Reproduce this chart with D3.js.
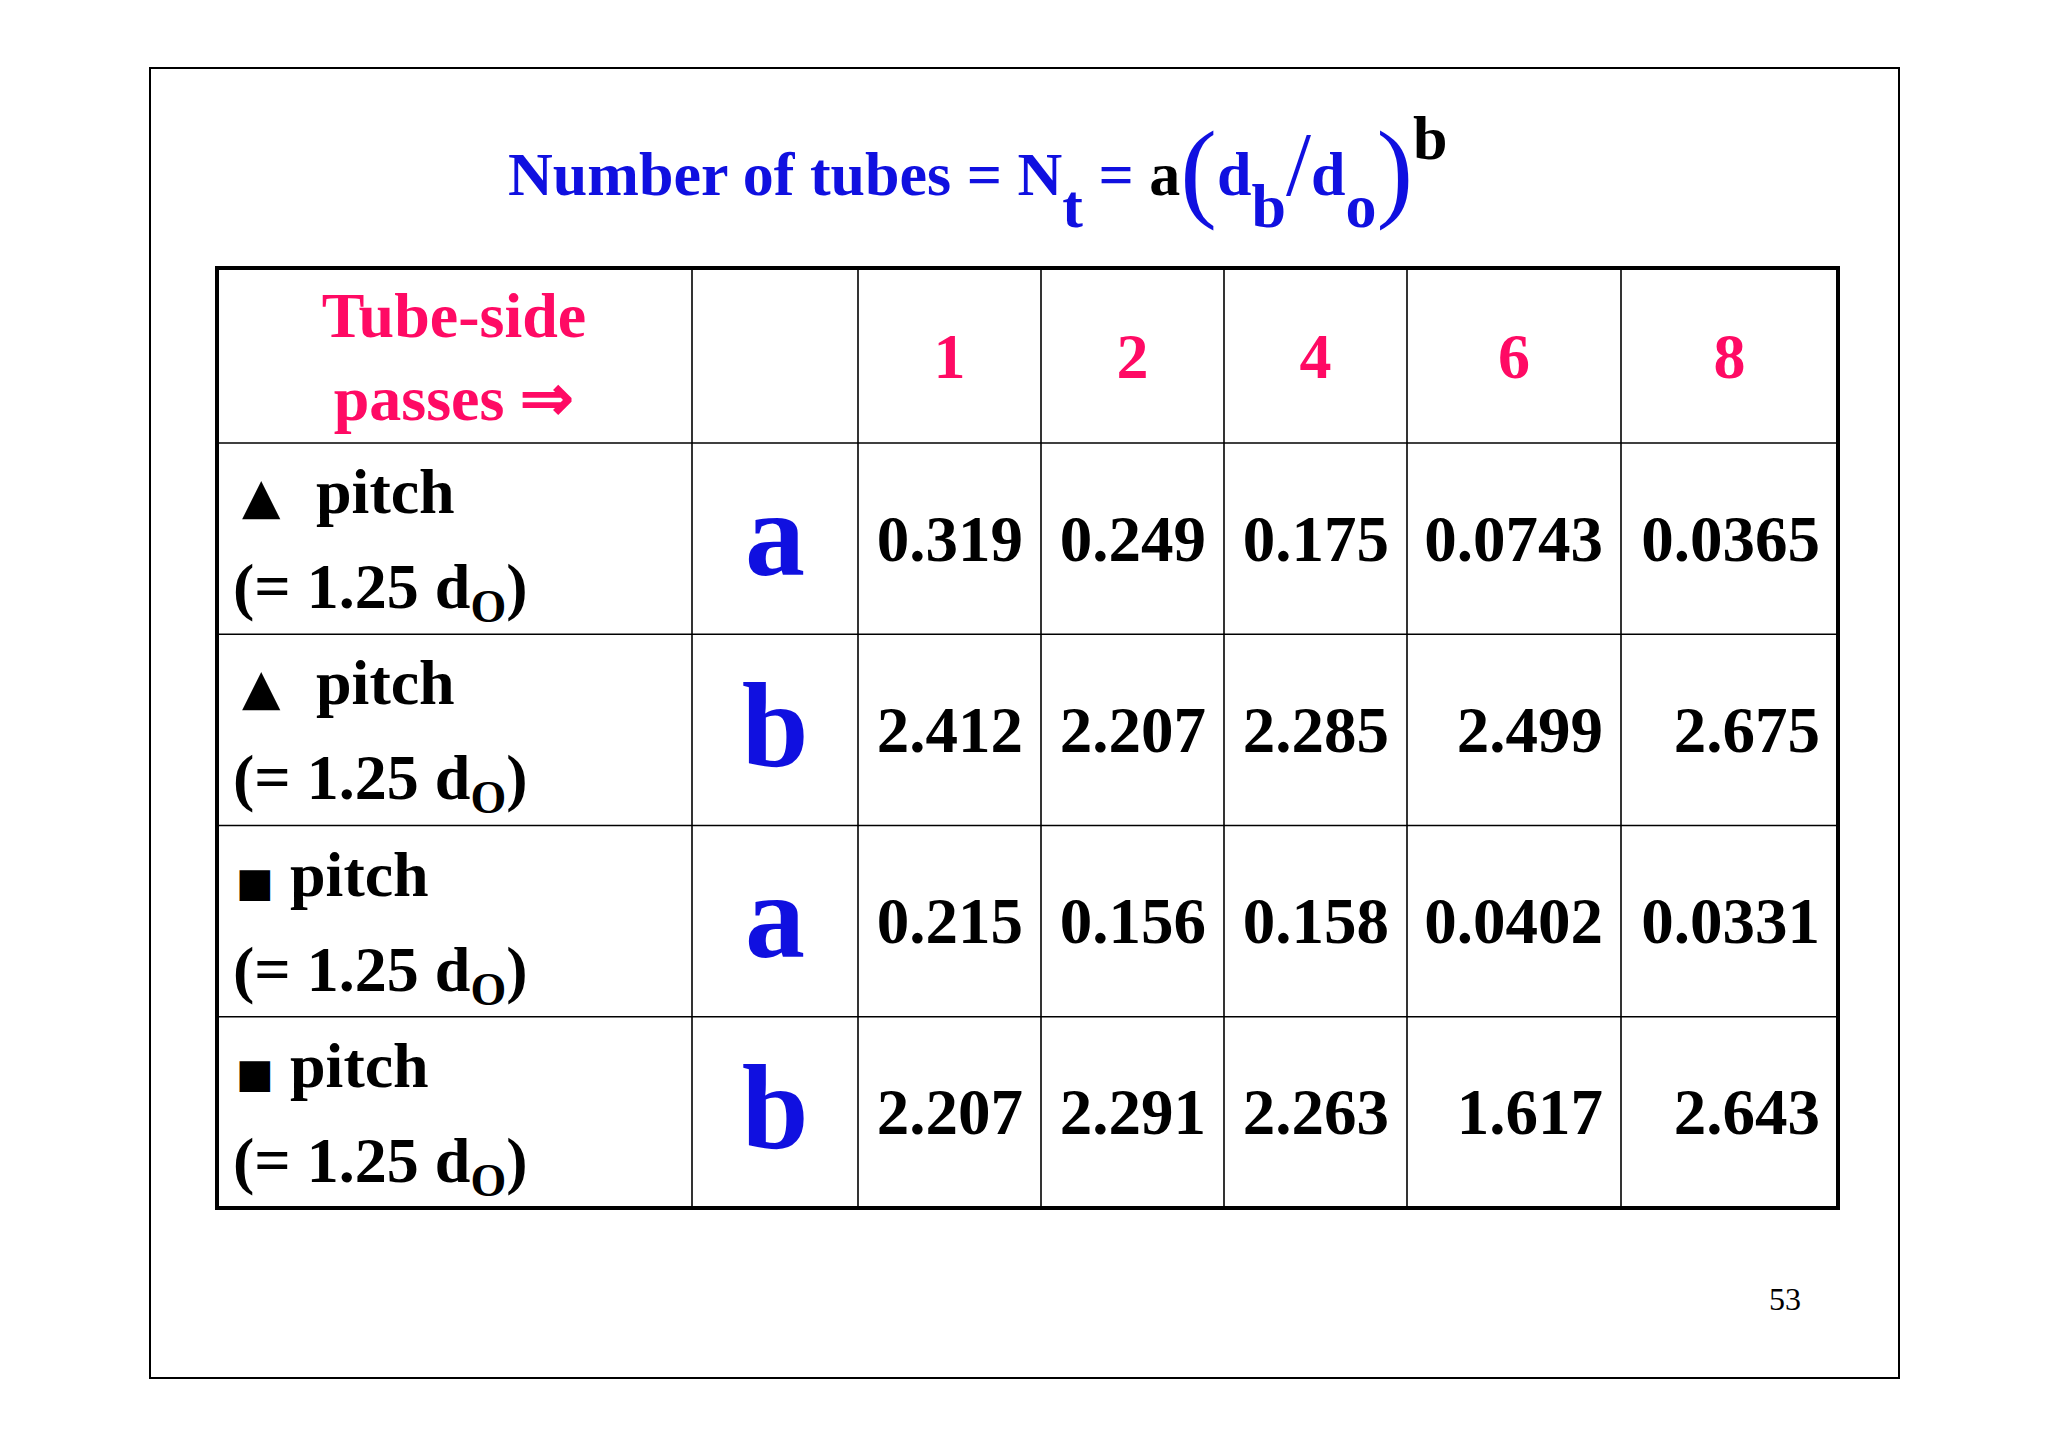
<!DOCTYPE html>
<html lang="en">
<head>
<meta charset="UTF-8">
<script src="https://d3js.org/d3.v7.min.js"></script>
<style>
  body { margin: 0; background: #fff; }
  text { font-family: "Liberation Serif", "Times New Roman", serif; font-weight: bold; }
</style>
</head>
<body>
<div id="chart"></div>
<script>
// data
const passes = ["1", "2", "4", "6", "8"];
const pitchSymbols = ["▲", "▲", "■", "■"];
const params = ["a", "b", "a", "b"];
const values = [
  ["0.319", "0.249", "0.175", "0.0743", "0.0365"],
  ["2.412", "2.207", "2.285", "2.499", "2.675"],
  ["0.215", "0.156", "0.158", "0.0402", "0.0331"],
  ["2.207", "2.291", "2.263", "1.617", "2.643"]
];
const pageNumber = "53";

const W = 2048, H = 1448;
const blue = "#1010E0", pink = "#FF0A64";

const svg = d3.select("#chart").append("svg").attr("width", W).attr("height", H);

// page frame
svg.append("rect").attr("x", 150).attr("y", 68).attr("width", 1749).attr("height", 1310)
  .attr("fill", "none").attr("stroke", "#000").attr("stroke-width", 2);

// title
const title = svg.append("text").attr("x", 508).attr("y", 195).attr("font-size", 62).attr("fill", blue);
title.append("tspan").text("Number of tubes = N");
title.append("tspan").attr("dy", 32).text("t");
title.append("tspan").attr("dy", -32).text("  =  ");
title.append("tspan").attr("fill", "#000").text("a");
title.append("tspan").attr("font-size", 110).attr("style", "font-weight:normal").attr("dy", 12).text("(");
title.append("tspan").attr("dy", -12).text("d");
title.append("tspan").attr("dy", 32).text("b");
title.append("tspan").attr("dy", -32).attr("font-size", 90).attr("style", "font-weight:normal").text("/");
title.append("tspan").text("d");
title.append("tspan").attr("dy", 32).text("o");
title.append("tspan").attr("font-size", 110).attr("style", "font-weight:normal").attr("dy", -20).text(")");
title.append("tspan").attr("fill", "#000").attr("dy", -48).text("b");

// table layout
const tableLeft = 217, tableRight = 1838, tableTop = 268, headerBottom = 443, tableBottom = 1208;
const labelRight = 692, paramRight = 858;
const colEdges = [858, 1041, 1224, 1407, 1621, 1838];

const y = d3.scaleBand().domain(d3.range(values.length)).range([headerBottom, tableBottom]);

const g = svg.append("g");
const thin = 1.6;
y.domain().forEach(i => {
  if (i > 0) g.append("line").attr("x1", tableLeft).attr("x2", tableRight)
    .attr("y1", y(i)).attr("y2", y(i)).attr("stroke", "#000").attr("stroke-width", thin);
});
g.append("line").attr("x1", tableLeft).attr("x2", tableRight).attr("y1", headerBottom).attr("y2", headerBottom)
  .attr("stroke", "#000").attr("stroke-width", thin);
[labelRight, ...colEdges.slice(0, -1)].forEach(x => {
  g.append("line").attr("x1", x).attr("x2", x).attr("y1", tableTop).attr("y2", tableBottom)
    .attr("stroke", "#000").attr("stroke-width", thin);
});
g.append("rect").attr("x", tableLeft).attr("y", tableTop).attr("width", tableRight - tableLeft)
  .attr("height", tableBottom - tableTop).attr("fill", "none").attr("stroke", "#000").attr("stroke-width", 4);

// header
g.append("text").attr("x", 454).attr("y", 337).attr("text-anchor", "middle").attr("font-size", 64)
  .attr("fill", pink).text("Tube-side");
g.append("text").attr("x", 454).attr("y", 420).attr("text-anchor", "middle").attr("font-size", 64)
  .attr("fill", pink).text("passes ⇒");
passes.forEach((p, j) => {
  g.append("text").attr("x", (colEdges[j] + colEdges[j + 1]) / 2).attr("y", 378)
    .attr("text-anchor", "middle").attr("font-size", 64).attr("fill", pink).text(p);
});

// rows
values.forEach((row, i) => {
  const top = y(i), h = y.bandwidth();
  const sq = pitchSymbols[i] === "■";
  g.append("text").attr("x", sq ? 236 : 242).attr("y", top + 70)
    .attr("font-family", "DejaVu Sans").attr("style", "font-family:'DejaVu Sans'")
    .attr("font-size", sq ? 40 : 50).text(pitchSymbols[i]);
  g.append("text").attr("x", sq ? 290 : 316).attr("y", top + 70).attr("font-size", 64).text("pitch");
  const sub = g.append("text").attr("x", 233).attr("y", top + 165).attr("font-size", 64);
  sub.append("tspan").text("(= 1.25 d");
  sub.append("tspan").attr("dy", 14).attr("font-size", 46).text("O");
  sub.append("tspan").attr("dy", -14).text(")");

  g.append("text").attr("x", (labelRight + paramRight) / 2).attr("y", top + h / 2 + 36)
    .attr("text-anchor", "middle").attr("font-size", 120).attr("fill", blue).text(params[i]);

  row.forEach((v, j) => {
    g.append("text").attr("x", colEdges[j + 1] - 18).attr("y", top + h / 2 + 22)
      .attr("text-anchor", "end").attr("font-size", 65).text(v);
  });
});

// page number
svg.append("text").attr("x", 1785).attr("y", 1310).attr("text-anchor", "middle")
  .attr("font-size", 32).attr("style", "font-weight:normal").text(pageNumber);
</script>
</body>
</html>
